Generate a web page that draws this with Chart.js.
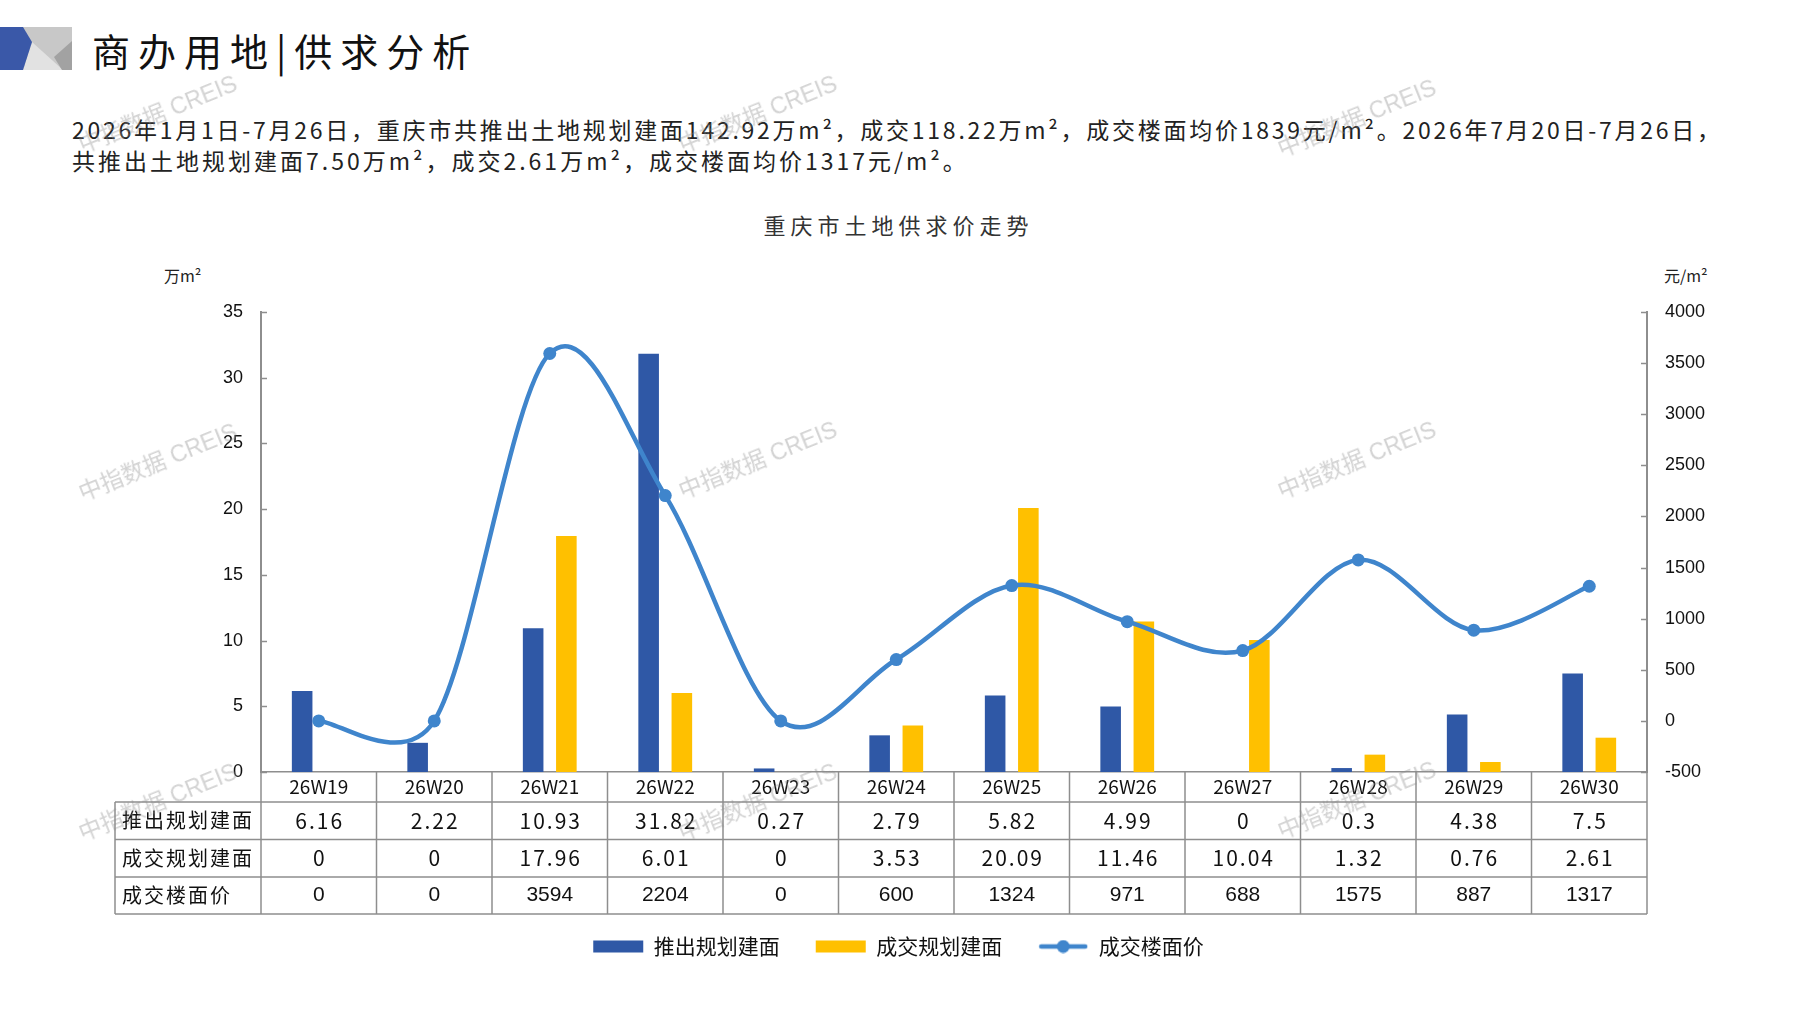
<!DOCTYPE html>
<html lang="zh-CN">
<head>
<meta charset="utf-8">
<title>商办用地|供求分析</title>
<script src="https://cdn.jsdelivr.net/npm/chart.js@4.4.1/dist/chart.umd.min.js"></script>
<style>
  html, body { margin: 0; padding: 0; background: #fff; }
  body { width: 1797px; height: 1010px; position: relative; overflow: hidden;
         font-family: "Noto Sans CJK SC", sans-serif; color: #222; }
  .abs { position: absolute; white-space: nowrap; }
  #logo { left: 0; top: 27px; }
  #title { left: 92px; top: 27px; font-size: 38px; line-height: 46px; letter-spacing: 8px; color: #111; }
  .para { left: 72px; font-size: 23px; line-height: 30px; letter-spacing: 3px; color: #222; }
  #chartTitle { left: 0; width: 1797px; top: 209px; text-align: center; font-size: 22px;
                line-height: 30px; letter-spacing: 5px; color: #333; }
  .unit { top: 265px; font-size: 16px; line-height: 20px; color: #222; }
  #c { position: absolute; left: 0; top: 0; }
  .wm { font-family: "Liberation Sans", "Noto Sans CJK SC", sans-serif; font-size: 23px;
        color: rgba(140, 140, 140, 0.38); transform: translate(-50%, -50%) rotate(-22deg);
        pointer-events: none; }
</style>
</head>
<body>
<svg id="logo" class="abs" width="74" height="44" viewBox="0 27 74 44">
  <polygon points="23,27 72,27 72,70 23,70" fill="#c8c8c8"/>
  <polygon points="32,42 63,70 23,70" fill="#e2e2e2"/>
  <polygon points="72,41 72,70 62,70 54,57" fill="#a2a2a2"/>
  <polygon points="0,27 23,27 32,42 23,70 0,70" fill="#3a58a8"/>
</svg>
<div id="title" class="abs">商办用地|供求分析</div>
<div class="abs para" style="top:114px;letter-spacing:2.75px">2026年1月1日-7月26日，重庆市共推出土地规划建面142.92万m²，成交118.22万m²，成交楼面均价1839元/m²。2026年7月20日-7月26日，</div>
<div class="abs para" style="top:145px">共推出土地规划建面7.50万m²，成交2.61万m²，成交楼面均价1317元/m²。</div>
<div id="chartTitle" class="abs">重庆市土地供求价走势</div>
<div class="abs unit" style="left:164px">万m²</div>
<div class="abs unit" style="left:1664px">元/m²</div>

<canvas id="c" width="1797" height="1010"></canvas>

<div class="abs wm" style="left:157px;top:112px">中指数据 CREIS</div>
<div class="abs wm" style="left:757px;top:112px">中指数据 CREIS</div>
<div class="abs wm" style="left:1356px;top:116px">中指数据 CREIS</div>
<div class="abs wm" style="left:157px;top:460px">中指数据 CREIS</div>
<div class="abs wm" style="left:757px;top:458px">中指数据 CREIS</div>
<div class="abs wm" style="left:1356px;top:458px">中指数据 CREIS</div>
<div class="abs wm" style="left:157px;top:800px">中指数据 CREIS</div>
<div class="abs wm" style="left:757px;top:800px">中指数据 CREIS</div>
<div class="abs wm" style="left:1356px;top:798px">中指数据 CREIS</div>

<script>
const weeks = ['26W19', '26W20', '26W21', '26W22', '26W23', '26W24', '26W25', '26W26', '26W27', '26W28', '26W29', '26W30'];
const supplyArea = [6.16, 2.22, 10.93, 31.82, 0.27, 2.79, 5.82, 4.99, 0, 0.3, 4.38, 7.5];
const dealArea = [0, 0, 17.96, 6.01, 0, 3.53, 20.09, 11.46, 10.04, 1.32, 0.76, 2.61];
const dealPrice = [0, 0, 3594, 2204, 0, 600, 1324, 971, 688, 1575, 887, 1317];
const seriesNames = ['推出规划建面', '成交规划建面', '成交楼面价'];
const leftTicks = [0, 35, 5];      // min, max, step
const rightTicks = [-500, 4000, 500];

const blue = '#2f58a6';
const yellow = '#ffc000';
const lineBlue = '#3f85cc';
const axisGray = '#8e8e8e';

// little line + dot icon for the legend
const lineIcon = document.createElement('canvas');
lineIcon.width = 50;
lineIcon.height = 14;
const ic = lineIcon.getContext('2d');
ic.strokeStyle = lineBlue;
ic.lineWidth = 4.5;
ic.lineCap = 'round';
ic.beginPath();
ic.moveTo(3, 7);
ic.lineTo(47, 7);
ic.stroke();
ic.fillStyle = lineBlue;
ic.beginPath();
ic.arc(25, 7, 6.5, 0, Math.PI * 2);
ic.fill();

// office-style smoothing: catmull-rom control points (1/6 of the neighbour chord),
// shortened when they'd reach past half of the adjacent segment
const smoothLine = {
    id: 'smoothLine',
    beforeDatasetDraw(chart, args) {
        const meta = args.meta;
        if (meta.type !== 'line') return;
        meta.dataset.updateControlPoints(chart.chartArea, 'x');
        const pts = meta.data;
        for (let i = 0; i < pts.length; i++) {
            const p = pts[i];
            const prev = pts[i - 1] || p;
            const next = pts[i + 1] || p;
            const dx = (next.x - prev.x) / 6;
            const dy = (next.y - prev.y) / 6;
            const len = Math.hypot(dx, dy) || 1;
            const segPrev = Math.hypot(p.x - prev.x, p.y - prev.y);
            const segNext = Math.hypot(next.x - p.x, next.y - p.y);
            const kPrev = Math.min(1, 0.5 * segPrev / len);
            const kNext = Math.min(1, 0.5 * segNext / len);
            p.cp1x = p.x - dx * kPrev;
            p.cp1y = p.y - dy * kPrev;
            p.cp2x = p.x + dx * kNext;
            p.cp2y = p.y + dy * kNext;
        }
        meta.dataset._path = undefined;
    }
};

// tick marks pointing into the plot
const innerTicks = {
    id: 'innerTicks',
    afterDraw(chart) {
        const {ctx, chartArea, scales} = chart;
        ctx.save();
        ctx.strokeStyle = axisGray;
        ctx.lineWidth = 1.5;
        scales.y.ticks.forEach((t, i) => {
            const py = Math.round(scales.y.getPixelForTick(i)) + 0.5;
            ctx.beginPath();
            ctx.moveTo(chartArea.left, py);
            ctx.lineTo(chartArea.left + 6, py);
            ctx.stroke();
        });
        scales.y1.ticks.forEach((t, i) => {
            const py = Math.round(scales.y1.getPixelForTick(i)) + 0.5;
            ctx.beginPath();
            ctx.moveTo(chartArea.right, py);
            ctx.lineTo(chartArea.right - 6, py);
            ctx.stroke();
        });
        ctx.restore();
    }
};

// data table under the plot, columns follow the category scale
const dataTable = {
    id: 'dataTable',
    afterDraw(chart) {
        const {ctx, chartArea, scales} = chart;
        const x = scales.x;
        const colW = (chartArea.right - chartArea.left) / weeks.length;
        const top = chartArea.bottom;
        const rows = [top, top + 30, top + 67.5, top + 105, top + 142];
        const tableLeft = 115;

        ctx.save();
        ctx.strokeStyle = axisGray;
        ctx.lineWidth = 1.5;
        // horizontal lines
        for (let r = 1; r < rows.length; r++) {
            ctx.beginPath();
            ctx.moveTo(tableLeft, rows[r]);
            ctx.lineTo(chartArea.right, rows[r]);
            ctx.stroke();
        }
        // vertical lines
        for (let i = 0; i <= weeks.length; i++) {
            const px = chartArea.left + i * colW;
            ctx.beginPath();
            ctx.moveTo(px, rows[0]);
            ctx.lineTo(px, rows[4]);
            ctx.stroke();
        }
        ctx.beginPath();
        ctx.moveTo(tableLeft, rows[1]);
        ctx.lineTo(tableLeft, rows[4]);
        ctx.stroke();

        ctx.fillStyle = '#111';
        ctx.textBaseline = 'middle';
        const mid = r => (rows[r] + rows[r + 1]) / 2;

        // row labels
        ctx.textAlign = 'left';
        ctx.font = '20px "Noto Sans CJK SC"';
        ctx.letterSpacing = '2px';
        seriesNames.forEach((name, r) => ctx.fillText(name, tableLeft + 7, mid(r + 1)));

        ctx.textAlign = 'center';
        ctx.letterSpacing = '0px';
        ctx.font = '19px "Noto Sans CJK SC"';
        weeks.forEach((w, i) => ctx.fillText(w, x.getPixelForValue(i), mid(0)));

        ctx.font = '21px "Noto Sans CJK SC"';
        ctx.letterSpacing = '2px';
        supplyArea.forEach((v, i) => ctx.fillText(String(v), x.getPixelForValue(i) + 1, mid(1)));
        dealArea.forEach((v, i) => ctx.fillText(String(v), x.getPixelForValue(i) + 1, mid(2)));

        ctx.letterSpacing = '0px';
        ctx.font = '21px "Liberation Sans"';
        dealPrice.forEach((v, i) => ctx.fillText(String(v), x.getPixelForValue(i), mid(3)));
        ctx.restore();
    }
};

new Chart(document.getElementById('c'), {
    type: 'bar',
    data: {
        labels: weeks,
        datasets: [{
            label: seriesNames[0],
            data: supplyArea,
            backgroundColor: blue,
            borderWidth: 0,
            yAxisID: 'y',
            order: 1,
            categoryPercentage: 0.575,
            barPercentage: 0.62
        }, {
            label: seriesNames[1],
            data: dealArea,
            backgroundColor: yellow,
            borderWidth: 0,
            yAxisID: 'y',
            order: 1,
            categoryPercentage: 0.575,
            barPercentage: 0.62
        }, {
            type: 'line',
            label: seriesNames[2],
            data: dealPrice,
            borderColor: lineBlue,
            backgroundColor: lineBlue,
            borderWidth: 4.5,
            pointRadius: 6.5,
            pointBorderWidth: 0,
            pointBackgroundColor: lineBlue,
            tension: 0.4,
            yAxisID: 'y1',
            order: 0
        }]
    },
    options: {
        responsive: false,
        animation: false,
        layout: {
            padding: {top: 312, left: 0, right: 0, bottom: 43}
        },
        scales: {
            x: {
                grid: {display: false, drawTicks: false},
                ticks: {display: false},
                border: {display: true, color: axisGray, width: 1.5},
                afterFit(scale) { scale.height = 128; }
            },
            y: {
                position: 'left',
                min: leftTicks[0],
                max: leftTicks[1],
                ticks: {
                    stepSize: leftTicks[2],
                    padding: 18,
                    color: '#111',
                    font: {family: 'Liberation Sans', size: 18}
                },
                grid: {display: false, drawTicks: false},
                border: {display: true, color: axisGray, width: 2},
                afterFit(scale) { scale.width = 261; }
            },
            y1: {
                position: 'right',
                min: rightTicks[0],
                max: rightTicks[1],
                ticks: {
                    stepSize: rightTicks[2],
                    padding: 18,
                    color: '#111',
                    font: {family: 'Liberation Sans', size: 18},
                    callback: v => String(v)
                },
                grid: {display: false, drawTicks: false},
                border: {display: true, color: axisGray, width: 2},
                afterFit(scale) { scale.width = 150; }
            }
        },
        plugins: {
            title: {display: false},
            tooltip: {enabled: false},
            legend: {
                position: 'bottom',
                labels: {
                    usePointStyle: true,
                    pointStyleWidth: 50,
                    boxHeight: 12,
                    padding: 36,
                    color: '#111',
                    font: {family: 'Noto Sans CJK SC', size: 21},
                    sort: (a, b) => a.datasetIndex - b.datasetIndex,
                    generateLabels(chart) {
                        const items = Chart.defaults.plugins.legend.labels.generateLabels(chart);
                        items.forEach(item => {
                            item.pointStyle = item.datasetIndex === 2 ? lineIcon : 'rect';
                        });
                        return items;
                    }
                }
            }
        }
    },
    plugins: [smoothLine, innerTicks, dataTable]
});
</script>
</body>
</html>
